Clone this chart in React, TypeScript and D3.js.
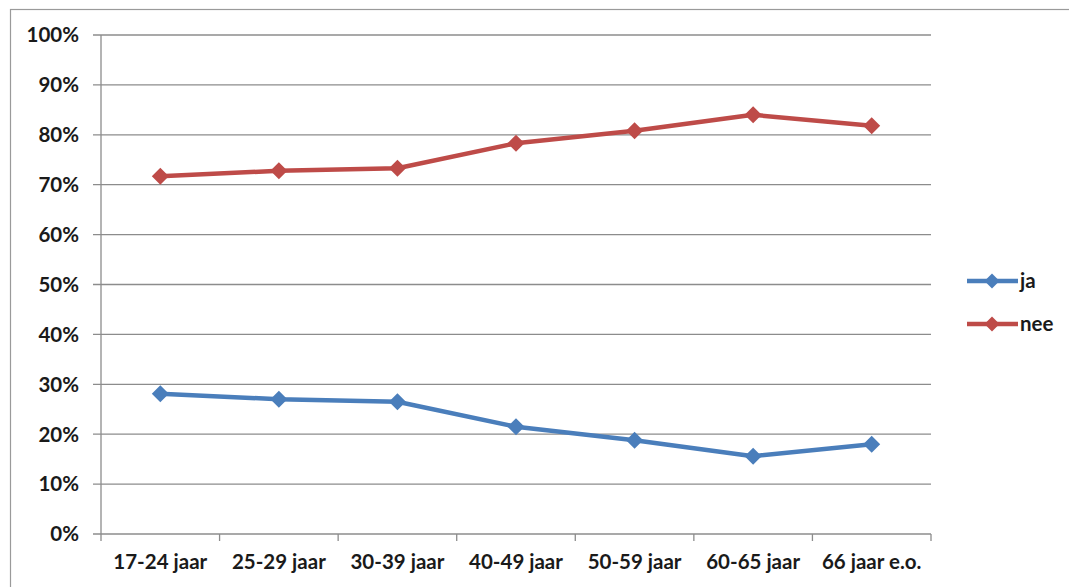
import React from "react";
import * as d3 from "d3";

const categories = [
  "17-24 jaar",
  "25-29 jaar",
  "30-39 jaar",
  "40-49 jaar",
  "50-59 jaar",
  "60-65 jaar",
  "66 jaar e.o.",
];
const jaValues = [28.1, 27.0, 26.5, 21.5, 18.8, 15.6, 18.0];
const neeValues = [71.7, 72.8, 73.3, 78.3, 80.8, 84.0, 81.8];
const yTicks = [0, 10, 20, 30, 40, 50, 60, 70, 80, 90, 100];

const series = [
  { name: "ja", values: jaValues, color: "#4A7EBB" },
  { name: "nee", values: neeValues, color: "#BE4B48" },
];

const W = 1069;
const H = 587;
const plot = { left: 101, right: 931, top: 35, bottom: 534 };
const FONT = "Lato, 'Open Sans', sans-serif";
const FS = 20.5;

export default function App() {
  const x = d3
    .scaleBand<string>()
    .domain(categories)
    .range([plot.left, plot.right])
    .padding(0);
  const y = d3.scaleLinear().domain([0, 100]).range([plot.bottom, plot.top]);
  const cx = (c: string) => (x(c) as number) + x.bandwidth() / 2;
  const line = d3
    .line<number>()
    .x((_, i) => cx(categories[i]))
    .y((v) => y(v));
  const diamond = (s: number) => `M0,${-s}L${s},0L0,${s}L${-s},0Z`;
  const boundaries = categories.map((c) => x(c) as number).concat([plot.right]);

  return (
    <svg
      width={W}
      height={H}
      style={{ position: "absolute", left: 0, top: 0 }}
      fontFamily={FONT}
    >
      <rect x={0} y={0} width={W} height={H} fill="#fff" />
      <rect x={10.5} y={9.5} width={1100} height={700} fill="#fff" stroke="#9a9a9a" strokeWidth={1.2} />

      {/* gridlines and y-axis labels */}
      {yTicks.map((t) => (
        <g key={t}>
          <line x1={plot.left - 8} x2={plot.right} y1={y(t)} y2={y(t)} stroke="#8c8c8c" strokeWidth={1.3} />
          <text
            x={79}
            y={y(t)}
            dy="0.36em"
            textAnchor="end"
            fontSize={FS}
            fontWeight={700}
            fill="#1a1a1a"
          >
            {t}%
          </text>
        </g>
      ))}

      {/* y axis line */}
      <line x1={plot.left} x2={plot.left} y1={plot.top} y2={plot.bottom} stroke="#8c8c8c" strokeWidth={1.3} />

      {/* x category ticks */}
      {boundaries.map((b, i) => (
        <line key={i} x1={b} x2={b} y1={plot.bottom} y2={plot.bottom + 7} stroke="#8c8c8c" strokeWidth={1.3} />
      ))}
      {categories.map((c) => (
        <text
          key={c}
          x={cx(c)}
          y={569}
          textAnchor="middle"
          fontSize={FS}
          fontWeight={700}
          fill="#1a1a1a"
        >
          {c}
        </text>
      ))}

      {/* series lines with diamond markers */}
      {series.map((s) => (
        <g key={s.name}>
          <path d={line(s.values) || ""} fill="none" stroke={s.color} strokeWidth={4.5} strokeLinejoin="round" />
          {s.values.map((v, i) => (
            <path
              key={i}
              d={diamond(8.5)}
              transform={`translate(${cx(categories[i])},${y(v)})`}
              fill={s.color}
            />
          ))}
        </g>
      ))}

      {/* legend */}
      {series.map((s, i) => {
        const ly = 281 + i * 43;
        return (
          <g key={s.name}>
            <line x1={967} x2={1018} y1={ly} y2={ly} stroke={s.color} strokeWidth={4.5} />
            <path d={diamond(7.5)} transform={`translate(${992},${ly})`} fill={s.color} />
            <text x={1020} y={ly} dy="0.36em" fontSize={FS} fontWeight={700} fill="#1a1a1a">
              {s.name}
            </text>
          </g>
        );
      })}
    </svg>
  );
}
